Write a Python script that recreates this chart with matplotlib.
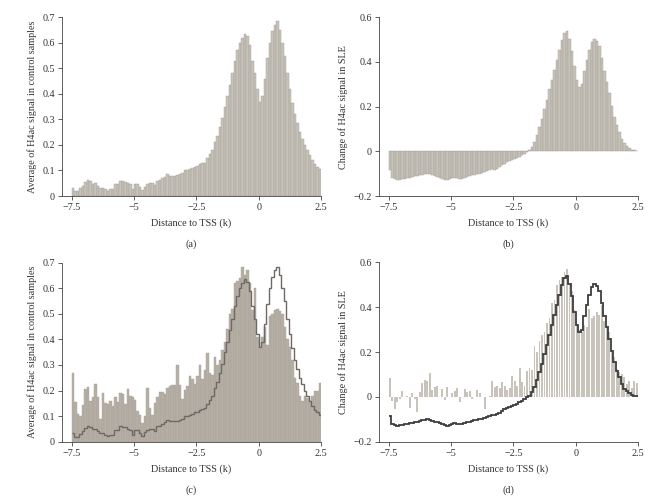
import numpy as np
import matplotlib
matplotlib.use("Agg")
import matplotlib.pyplot as plt

plt.rcParams['font.family'] = ['Liberation Serif', 'DejaVu Serif']
plt.rcParams['font.size'] = 7.3

# bins of 0.1 k from -7.5 to 2.5
bin_left = -7.5 + 0.1 * np.arange(100)
bin_edges = np.append(bin_left, 2.5)

# (a) average H4ac signal in control samples
control_avg = [
    0.033, 0.018, 0.018, 0.03, 0.04, 0.055, 0.063, 0.058, 0.048, 0.05,
    0.04, 0.033, 0.033, 0.027, 0.021, 0.026, 0.026, 0.046, 0.047, 0.06,
    0.058, 0.056, 0.05, 0.047, 0.027, 0.047, 0.047, 0.034, 0.024, 0.037,
    0.046, 0.05, 0.05, 0.043, 0.06, 0.063, 0.069, 0.076, 0.086, 0.08,
    0.08, 0.08, 0.082, 0.086, 0.089, 0.1, 0.1, 0.106, 0.108, 0.115,
    0.118, 0.125, 0.128, 0.13, 0.148, 0.165, 0.18, 0.21, 0.235, 0.27,
    0.305, 0.35, 0.39, 0.435, 0.48, 0.53, 0.57, 0.60, 0.62, 0.635,
    0.625, 0.59, 0.53, 0.48, 0.42, 0.37, 0.39, 0.46, 0.54, 0.6,
    0.645, 0.67, 0.685, 0.65, 0.6, 0.55, 0.48, 0.42, 0.365, 0.32,
    0.285, 0.25, 0.225, 0.2, 0.18, 0.16, 0.14, 0.125, 0.115, 0.105,
]

# (b) change of H4ac signal in SLE
sle_change = [
    -0.085, -0.12, -0.125, -0.128, -0.127, -0.125, -0.122, -0.12, -0.118, -0.115,
    -0.112, -0.11, -0.108, -0.105, -0.102, -0.1, -0.103, -0.107, -0.11, -0.113,
    -0.118, -0.122, -0.127, -0.128, -0.125, -0.12, -0.118, -0.12, -0.123, -0.122,
    -0.118, -0.113, -0.11, -0.107, -0.105, -0.103, -0.1, -0.098, -0.093, -0.088,
    -0.085, -0.08, -0.083, -0.078, -0.07, -0.063, -0.055, -0.048, -0.045, -0.04,
    -0.035, -0.03, -0.025, -0.018, -0.01, -0.002, 0.005, 0.02, 0.042, 0.075,
    0.11, 0.146, 0.19, 0.23, 0.277, 0.32, 0.366, 0.41, 0.455, 0.5,
    0.53, 0.54, 0.505, 0.45, 0.38, 0.32, 0.29, 0.3, 0.36, 0.41,
    0.455, 0.49, 0.505, 0.495, 0.47, 0.42, 0.36, 0.31, 0.26, 0.205,
    0.155, 0.117, 0.087, 0.057, 0.037, 0.025, 0.015, 0.008, 0.004, 0.003,
]

# (c) single control sample
sample_c = [
    0.267, 0.156, 0.107, 0.10, 0.143, 0.205, 0.212, 0.16, 0.176, 0.224,
    0.176, 0.089, 0.19, 0.15, 0.146, 0.16, 0.14, 0.176, 0.156, 0.19,
    0.186, 0.147, 0.206, 0.179, 0.173, 0.163, 0.121, 0.104, 0.072, 0.10,
    0.209, 0.133, 0.104, 0.15, 0.175, 0.196, 0.196, 0.185, 0.211, 0.219,
    0.222, 0.222, 0.30, 0.222, 0.167, 0.202, 0.218, 0.258, 0.245, 0.225,
    0.257, 0.30, 0.244, 0.28, 0.348, 0.27, 0.26, 0.33, 0.30, 0.32,
    0.36, 0.39, 0.44, 0.5, 0.52, 0.62, 0.63, 0.64, 0.685, 0.65,
    0.67, 0.62, 0.515, 0.6, 0.41, 0.37, 0.41, 0.45, 0.38, 0.49,
    0.5, 0.515, 0.52, 0.51, 0.5, 0.45, 0.40, 0.37, 0.32, 0.25,
    0.23, 0.18, 0.16, 0.18, 0.17, 0.16, 0.18, 0.2, 0.2, 0.23,
]

# (d) single SLE sample change
sample_d = [
    0.084, -0.02, -0.052, -0.025, -0.01, 0.027, 0.0, 0.005, -0.05, 0.016,
    -0.01, -0.066, 0.02, 0.06, 0.076, 0.069, 0.105, 0.03, 0.045, 0.05,
    0.0, 0.035, -0.015, 0.045, 0.0, 0.016, 0.027, 0.039, -0.025, 0.0,
    0.035, 0.02, 0.025, -0.01, 0.0, 0.03, 0.015, 0.0, -0.055, 0.0,
    0.005, 0.072, 0.045, 0.05, 0.04, 0.064, 0.05, 0.03, 0.04, 0.094,
    0.07, 0.05, 0.13, 0.064, 0.05, 0.117, 0.13, 0.12, 0.226, 0.2,
    0.247, 0.274, 0.29, 0.33, 0.35, 0.42, 0.43, 0.5, 0.52, 0.535,
    0.556, 0.57, 0.5, 0.47, 0.386, 0.32, 0.3, 0.29, 0.32, 0.31,
    0.39, 0.35, 0.36, 0.38, 0.365, 0.41, 0.34, 0.31, 0.29, 0.21,
    0.177, 0.124, 0.109, 0.10, 0.087, 0.057, 0.072, 0.039, 0.072, 0.06,
]

xticks = [-7.5, -5, -2.5, 0, 2.5]
xticklabels = ['\u22127.5', '\u22125', '\u22122.5', '0', '2.5']

W, H = 666, 503
fig = plt.figure(figsize=(W / 100, H / 100), dpi=100)

def make_axes(x0, x1, ytop, ybot):
    return fig.add_axes([x0 / W, 1 - ybot / H, (x1 - x0) / W, (ybot - ytop) / H])

def style(ax, ylim, yticks, ylabel, tag):
    ax.set_xlim(-7.9, 2.5)
    ax.set_ylim(*ylim)
    for s in ['top', 'right']:
        ax.spines[s].set_visible(False)
    for s in ['left', 'bottom']:
        ax.spines[s].set_color('#444444')
        ax.spines[s].set_linewidth(0.6)
    ax.set_xticks(xticks)
    ax.set_xticklabels(xticklabels)
    ax.set_yticks(yticks)
    ax.set_yticklabels([('\u2212' if v < 0 else '') + ('%g' % abs(v)) for v in yticks])
    ax.tick_params(direction='out', length=3, width=0.6, color='#444444',
                   labelcolor='#333333', labelsize=7.3, pad=2)
    ax.set_xlabel('Distance to TSS (k)', color='#333333', labelpad=5)
    ax.set_ylabel(ylabel, color='#333333', labelpad=4)
    ax.text(0.5, -0.27, tag, transform=ax.transAxes, ha='center', va='center',
            color='#333333')

bar_fill = '#c8c3ba'
bar_edge = '#a19c94'
centers = bin_left + 0.05

# (a)
ax_a = make_axes(61.7, 321, 17.3, 196)
ax_a.bar(centers, control_avg, width=0.1, color=bar_fill, edgecolor=bar_edge, linewidth=0.3)
style(ax_a, (0, 0.7), [0, 0.1, 0.2, 0.3, 0.4, 0.5, 0.6, 0.7],
      'Average of H4ac signal in control samples', '(a)')

# (b)
ax_b = make_axes(378.7, 638, 17.3, 196)
ax_b.bar(centers, sle_change, width=0.1, color=bar_fill, edgecolor=bar_edge, linewidth=0.3)
style(ax_b, (-0.2, 0.6), [-0.2, 0, 0.2, 0.4, 0.6], 'Change of H4ac signal in SLE', '(b)')

# (c)
ax_c = make_axes(61.7, 321, 262.7, 441.7)
ax_c.bar(centers, sample_c, width=0.1, color='#b6afa5', edgecolor='#a8a197', linewidth=0.3)
ax_c.stairs(control_avg, bin_edges, baseline=None, color='#6e6965', linewidth=1.0)
style(ax_c, (0, 0.7), [0, 0.1, 0.2, 0.3, 0.4, 0.5, 0.6, 0.7],
      'Average of H4ac signal in control samples', '(c)')

# (d)
ax_d = make_axes(378.7, 638, 262.3, 441.7)
ax_d.bar(centers, sample_d, width=0.075, color='#c8c3bb', linewidth=0)
ax_d.stairs(sle_change, bin_edges, baseline=None, color='#3e3e3e', linewidth=1.3)
style(ax_d, (-0.2, 0.6), [-0.2, 0, 0.2, 0.4, 0.6], 'Change of H4ac signal in SLE', '(d)')

fig.savefig('out.png', dpi=100)
